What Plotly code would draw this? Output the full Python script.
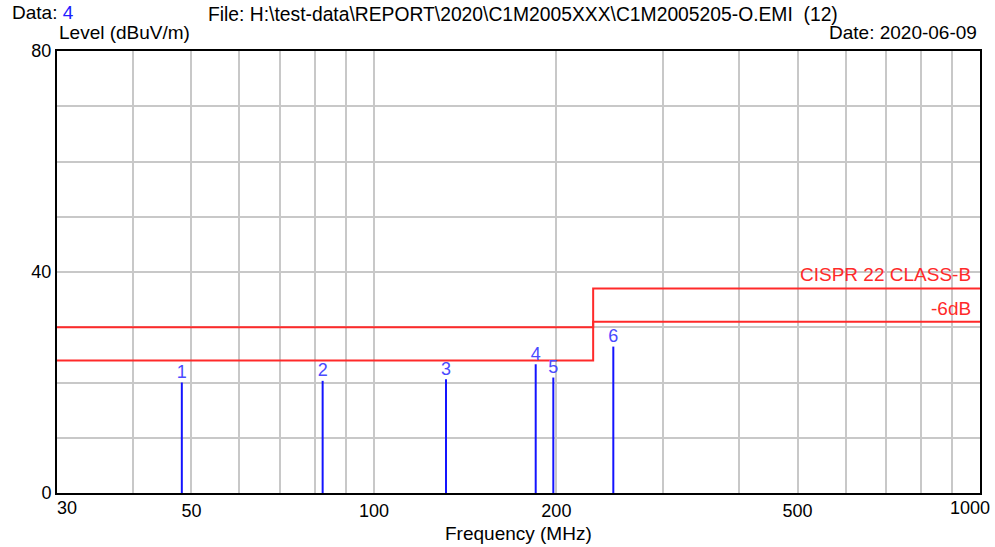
import plotly.graph_objects as go

# Data
marker_ids = ["1", "2", "3", "4", "5", "6"]
marker_freq = [48.2, 82.3, 131.5, 184.9, 197.7, 248.3]
marker_level = [20.0, 20.3, 20.6, 23.3, 20.9, 26.5]

limit_freq = [30, 230, 230, 1000]
limit_level = [30, 30, 37, 37]
margin_level = [24, 24, 31, 31]

x_grid = [30, 40, 50, 60, 70, 80, 90, 100, 200, 300, 400, 500, 600, 700, 800, 900, 1000]
x_labels = ["", "", "50", "", "", "", "", "100", "200", "", "", "500", "", "", "", "", ""]
edge_labels = ["30", "1000"]
y_grid = [0, 10, 20, 30, 40, 50, 60, 70, 80]
y_labels = ["0", "", "", "", "40", "", "", "", "80"]

FONT = "Liberation Sans, Arial, sans-serif"
RED = "#ff2a2a"
BLUE = "#1414ff"
TXT = "#000000"

L, R, T, B = 57, 15, 51, 54
W, H = 995, 547
PW, PH = W - L - R, H - T - B


def px(xp):
    return (xp - L) / PW


def py(yp):
    return (H - B - yp) / PH


fig = go.Figure()

fig.add_trace(go.Scatter(x=limit_freq, y=limit_level, mode="lines",
                         line=dict(color=RED, width=2), hoverinfo="skip"))
fig.add_trace(go.Scatter(x=limit_freq, y=margin_level, mode="lines",
                         line=dict(color=RED, width=2), hoverinfo="skip"))

sx, sy = [], []
for f, l in zip(marker_freq, marker_level):
    sx += [f, f, None]
    sy += [0, l, None]
fig.add_trace(go.Scatter(x=sx, y=sy, mode="lines",
                         line=dict(color=BLUE, width=2), hoverinfo="skip"))
fig.add_trace(go.Scatter(x=marker_freq, y=marker_level, mode="text", text=marker_ids,
                         textposition="top center",
                         textfont=dict(family=FONT, size=18, color="#4a4aff"),
                         hoverinfo="skip"))

fig.update_layout(
    width=W, height=H,
    margin=dict(l=L, r=R, t=T, b=B),
    paper_bgcolor="white", plot_bgcolor="white",
    showlegend=False,
    font=dict(family=FONT, size=18, color=TXT),
    xaxis=dict(type="log", range=[1.4771, 3.0], tickmode="array",
               tickvals=x_grid, ticktext=x_labels,
               showgrid=True, gridcolor="#c8c8c8", gridwidth=1.5,
               showline=True, linecolor="black", linewidth=2, mirror=True,
               ticks="", zeroline=False,
               tickfont=dict(family=FONT, size=18, color=TXT)),
    yaxis=dict(range=[0, 80], tickmode="array", tickvals=y_grid, ticktext=y_labels,
               showgrid=True, gridcolor="#c8c8c8", gridwidth=1.5,
               showline=True, linecolor="black", linewidth=2, mirror=True,
               ticks="", zeroline=False,
               tickfont=dict(family=FONT, size=18, color=TXT)),
)

ann = [
    (10, 12, "Data: <span style='color:#2020ff'>4</span>", "left", 19),
    (206, 14, "File: H:\\test-data\\REPORT\\2020\\C1M2005XXX\\C1M2005205-O.EMI&nbsp;&nbsp;(12)", "left", 19.3),
    (57, 33, "Level (dBuV/m)", "left", 19),
    (979, 33, "Date: 2020-06-09", "right", 19),
    (518, 533, "Frequency (MHz)", "center", 19),
    (66.5, 508, edge_labels[0], "center", 18),
    (970, 508, edge_labels[1], "center", 18),
]
for x, y, t, xa, sz in ann:
    fig.add_annotation(x=px(x), y=py(y), xref="paper", yref="paper", text=t,
                       xanchor=xa, yanchor="middle", showarrow=False,
                       font=dict(family=FONT, size=sz, color=TXT))

fig.add_annotation(x=3.0, y=37, xref="x", yref="y", text="CISPR 22 CLASS-B",
                   xanchor="right", yanchor="middle", showarrow=False, xshift=-7, yshift=14,
                   font=dict(family=FONT, size=19, color=RED))
fig.add_annotation(x=3.0, y=31, xref="x", yref="y", text="-6dB",
                   xanchor="right", yanchor="middle", showarrow=False, xshift=-7, yshift=13,
                   font=dict(family=FONT, size=19, color=RED))

fig.write_html("out.html")
